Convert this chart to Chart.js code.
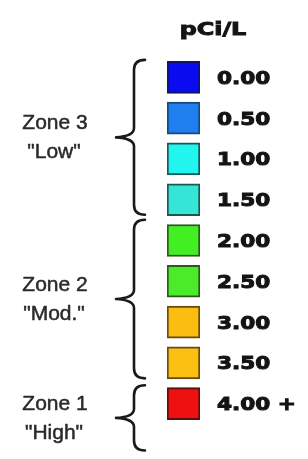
<!DOCTYPE html>
<html>
<head>
<meta charset="utf-8">
<script src="https://cdn.jsdelivr.net/npm/chart.js@4/dist/chart.umd.min.js"></script>
<style>
  html, body { margin: 0; padding: 0; background: #ffffff; }
  canvas { display: block; }
</style>
</head>
<body>
<canvas id="legend-chart" width="308" height="459"></canvas>
<script>
// Radon level legend: pCi/L swatches grouped into zones

const unitLabel = 'pCi/L';
const levels = ['0.00', '0.50', '1.00', '1.50', '2.00', '2.50', '3.00', '3.50', '4.00 +'];
const swatchSize = [1, 1, 1, 1, 1, 1, 1, 1, 1];
const swatchColors = ['#0b0bef', '#1f7fef', '#22f5f0', '#35e5d5', '#42f022', '#4aec2a', '#fbbd12', '#fcc012', '#ef1010'];
const swatchBorders = ['#14146a', '#154a7a', '#1a5656', '#1d5850', '#2a5a1a', '#2a5a1a', '#6a4a10', '#6a4a10', '#5a1010'];

// zones, with the rows their brace covers (row index units)
const zoneNames = ['Zone 3', 'Zone 2', 'Zone 1'];
const zoneRatings = ['"Low"', '"Mod."', '"High"'];
const zoneFrom = [-0.43, 3.49, 7.55];
const zoneTo = [3.37, 7.38, 9.15];

// draw text stretched sideways, like the scanned original; optional stroke makes it heavier
function wideText(ctx, text, x, y, sx, align, heavy) {
  ctx.save();
  ctx.translate(x, y);
  ctx.scale(sx, 1);
  ctx.textAlign = align;
  ctx.fillText(text, 0, 0);
  if (heavy) {
    ctx.lineWidth = heavy;
    ctx.strokeStyle = ctx.fillStyle;
    ctx.strokeText(text, 0, 0);
  }
  ctx.restore();
}

function drawBrace(ctx, x0, top, bottom) {
  const mid = (top + bottom) / 2;
  const xr = x0 + 11;
  const xt = x0 - 18;
  ctx.beginPath();
  ctx.moveTo(xr, top);
  ctx.quadraticCurveTo(x0, top, x0, top + 10);
  ctx.lineTo(x0, mid - 9);
  ctx.quadraticCurveTo(x0, mid - 1, xt, mid);
  ctx.quadraticCurveTo(x0, mid + 1, x0, mid + 9);
  ctx.lineTo(x0, bottom - 10);
  ctx.quadraticCurveTo(x0, bottom, xr, bottom);
  ctx.stroke();
  return mid;
}

const legendText = {
  id: 'legendText',
  afterDraw(chart) {
    const ctx = chart.ctx;
    const area = chart.chartArea;
    const y = chart.scales.y;

    ctx.save();
    ctx.textBaseline = 'alphabetic';

    // header
    ctx.fillStyle = '#141414';
    ctx.font = "bold 17px 'DejaVu Sans'";
    wideText(ctx, unitLabel, area.left + 46, 35, 1.4, 'center', 0.9);

    // value labels next to the swatches
    ctx.font = "bold 18px 'DejaVu Sans'";
    levels.forEach((lab, i) => {
      wideText(ctx, lab, area.right + 17, y.getPixelForValue(i) + 6.5, 1.2, 'left', 1);
    });

    // zone braces + names
    ctx.strokeStyle = '#1a1a1a';
    ctx.lineWidth = 2.6;
    ctx.lineCap = 'round';
    ctx.lineJoin = 'round';
    zoneNames.forEach((name, i) => {
      const top = y.getPixelForValue(zoneFrom[i]);
      const bottom = y.getPixelForValue(zoneTo[i]);
      const mid = drawBrace(ctx, area.left - 33, top, bottom);
      ctx.fillStyle = '#2a2a2a';
      ctx.font = "21px 'Liberation Sans'";
      wideText(ctx, name, 55, mid - 8, 1, 'center', 0.5);
      wideText(ctx, zoneRatings[i], 54, mid + 21, 1, 'center', 0.5);
    });
    ctx.restore();
  }
};

new Chart(document.getElementById('legend-chart'), {
  type: 'bar',
  data: {
    labels: levels,
    datasets: [{
      data: swatchSize,
      backgroundColor: swatchColors,
      borderColor: swatchBorders,
      borderWidth: 2,
      borderSkipped: false,
      barThickness: 32,
    }],
  },
  options: {
    indexAxis: 'y',
    responsive: false,
    animation: false,
    devicePixelRatio: 1,
    layout: { padding: { left: 167, right: 108, top: 57, bottom: 35 } },
    scales: {
      x: { display: false, min: 0, max: 1 },
      y: { display: false },
    },
    plugins: {
      legend: { display: false },
      tooltip: { enabled: false },
    },
  },
  plugins: [legendText],
});
</script>
</body>
</html>
